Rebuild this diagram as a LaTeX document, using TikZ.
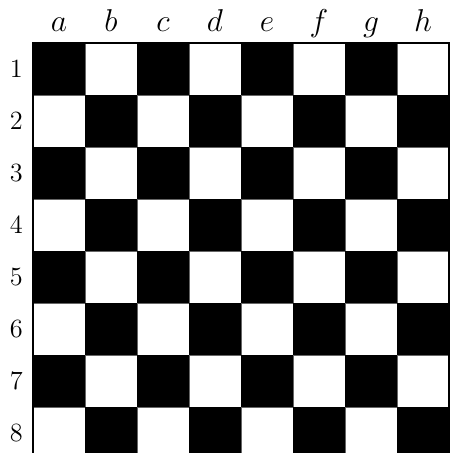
\documentclass[tikz,border=0pt]{standalone}
\usetikzlibrary{positioning}
\begin{document}
\begin{tikzpicture}[x=1cm, y=-1cm]
		% Estilos de las casillas y rótulos
		\tikzset{
			square/.style={
					rectangle, minimum size=1cm,
					inner sep=0pt, outer sep=0pt, anchor=north west
				},
			dark/.style={
					square, fill=black
				},
			light/.style={
					square, fill=white, draw=black!60, line width=0.3pt
				},
			file label/.style={
					font=\LARGE, anchor=base
				},
			rank label/.style={
					font=\Large
				}
		}

		% Marco de la imagen
		\clip (-0.635,-0.827) rectangle (8.019,7.885);

		% Casillas del tablero
		\foreach \col [count=\i from 0] in {a,b,c,d,e,f,g,h} {
				\foreach \row in {1,...,8} {
						\pgfmathtruncatemacro{\parity}{mod(\i+\row,2)}
						\ifnum\parity=1
							\node[dark] (sq-\col\row) at (\i,\row-1) {};
						\else
							\node[light] (sq-\col\row) at (\i,\row-1) {};
						\fi
					}
				% Rótulo de la columna
				\node[file label] (file-\col) at (\i+0.5,-0.22) {$\col$};
			}

		% Rótulos de las filas
		\foreach \row in {1,...,8} {
				\node[rank label] (rank-\row) at (-0.32,\row-0.5) {\row};
			}

		% Borde del tablero
		\draw[line width=0.6pt] (sq-a1.north west) rectangle (sq-h8.south east);
	\end{tikzpicture}
\end{document}
